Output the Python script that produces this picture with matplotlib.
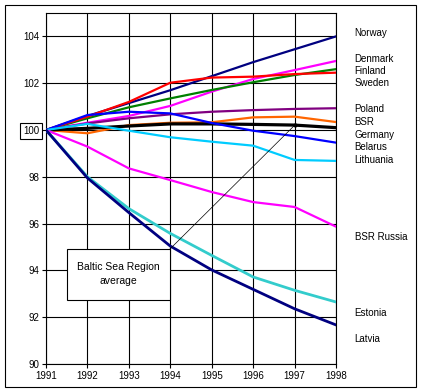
import numpy as np
import matplotlib.pyplot as plt
from matplotlib.patches import Rectangle

years = [1991, 1992, 1993, 1994, 1995, 1996, 1997, 1998]

norway = [100, 100.6, 101.15, 101.7, 102.3, 102.9, 103.45, 104.0]
denmark = [100, 100.31, 100.6, 101.03, 101.64, 102.18, 102.56, 102.95]
finland = [100, 100.5, 100.97, 101.35, 101.71, 102.04, 102.35, 102.6]
sweden = [100, 100.57, 101.2, 102.02, 102.24, 102.28, 102.39, 102.45]
poland = [100, 100.28, 100.5, 100.67, 100.78, 100.85, 100.9, 100.93]
bsr = [100, 99.86, 100.21, 100.31, 100.33, 100.54, 100.57, 100.34]
germany = [100, 100.07, 100.17, 100.26, 100.26, 100.24, 100.21, 100.1]
belarus = [100, 100.64, 100.78, 100.71, 100.3, 99.97, 99.74, 99.46]
lithuania = [100, 100.26, 99.97, 99.69, 99.5, 99.33, 98.72, 98.68]
bsr_russia = [100, 99.29, 98.36, 97.86, 97.35, 96.92, 96.71, 95.87]
estonia = [100, 98.0, 96.64, 95.58, 94.64, 93.72, 93.15, 92.65]
latvia = [100, 97.95, 96.47, 95.04, 94.02, 93.19, 92.36, 91.67]

series = [
    ("Norway", norway, "#000080", 1.6),
    ("Denmark", denmark, "#FF00FF", 1.6),
    ("Finland", finland, "#008000", 1.6),
    ("Sweden", sweden, "#FF0000", 1.6),
    ("Poland", poland, "#800080", 1.6),
    ("BSR", bsr, "#FF6600", 1.6),
    ("Germany", germany, "#000000", 2.3),
    ("Belarus", belarus, "#0000FF", 1.6),
    ("Lithuania", lithuania, "#00CCFF", 1.6),
    ("BSR Russia", bsr_russia, "#FF00FF", 1.6),
    ("Estonia", estonia, "#33CCCC", 2.0),
    ("Latvia", latvia, "#000080", 2.0),
]

# label y positions (data units) on the right side
label_y = [104.15, 103.05, 102.54, 102.0, 100.88, 100.35, 99.79, 99.26,
           98.7, 95.44, 92.16, 91.07]

plt.rcParams['font.family'] = ['Liberation Sans', 'DejaVu Sans']

fig = plt.figure(figsize=(4.22, 3.92), dpi=100)
ax = fig.add_axes([46 / 422, 28 / 392, 290 / 422, 351 / 392])

for name, vals, col, lw in series:
    ax.plot(years, vals, color=col, lw=lw, zorder=3)

ax.set_xlim(1991, 1998)
ax.set_ylim(90, 105)
ax.set_xticks(years)
ax.set_yticks(np.arange(90, 105, 2))
ax.grid(True, color="black", lw=0.8)
ax.tick_params(labelsize=7, length=3, width=0.8, pad=2)
for s in ax.spines.values():
    s.set_linewidth(0.8)

# box around 100 tick label
for lab in ax.get_yticklabels():
    if lab.get_text() == "100":
        lab.set_bbox(dict(facecolor="white", edgecolor="black", lw=0.8, pad=2))

for (name, vals, col, lw), y in zip(series, label_y):
    ax.text(1998.45, y, name, fontsize=7, va="center", ha="left",
            clip_on=False)

# annotation: box + pointer to Germany 1997 (the BSR average line)
ax.add_patch(Rectangle((1991.5, 92.74), 2.49, 2.17, facecolor="white",
                       edgecolor="black", lw=0.8, zorder=5))
ax.plot([1993.99, 1997], [94.91, 100.2], color="black", lw=0.5, zorder=4)
ax.plot([1997], [100.2], "o", color="black", ms=2, zorder=4)
ax.text(1992.75, 93.83, "Baltic Sea Region\naverage", fontsize=7.5,
        ha="center", va="center", zorder=6, linespacing=1.5)

fig.patches.append(Rectangle((5 / 422, 5 / 392), 411 / 422, 382 / 392,
                             transform=fig.transFigure, fill=False,
                             edgecolor="black", lw=0.8))

fig.savefig("out.png", dpi=100)
